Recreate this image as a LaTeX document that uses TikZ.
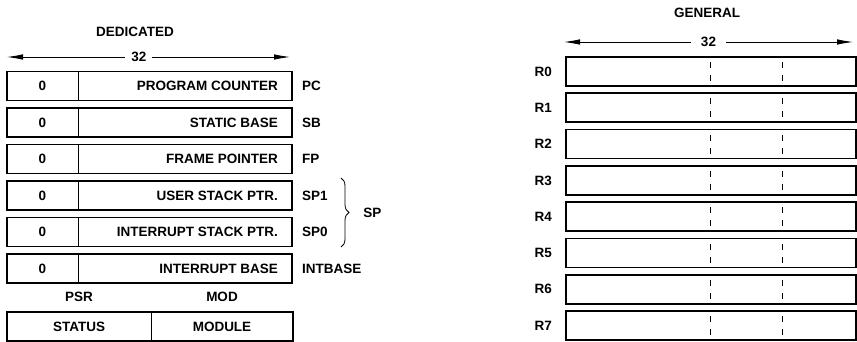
\documentclass[tikz,border=0pt]{standalone}
\usepackage{fontspec}
\setsansfont{Liberation Sans}
\usepackage{tikz}
\usetikzlibrary{positioning,arrows.meta,decorations.pathreplacing}

\begin{document}
\begin{tikzpicture}[x=1pt, y=-1pt, font=\fontsize{13.5}{15}\selectfont\sffamily\bfseries,
  regbox/.style={draw, line width=1.8pt, minimum height=29pt, inner sep=0pt, outer sep=0pt},
  cell/.style={minimum height=29pt, inner sep=0pt, outer sep=0pt},
  divider/.style={line width=0.9pt},
  bytesep/.style={line width=0.8pt, dash pattern=on 6pt off 7pt},
  dimline/.style={line width=0.8pt, {Latex[length=16pt,width=5.5pt]}-{Latex[length=16pt,width=5.5pt]}},
  lbl/.style={inner sep=0pt}]
\useasboundingbox (0,0) rectangle (857,342);

% dedicated registers
\node[lbl] (ded) at (135,32) {DEDICATED};
\coordinate (dedl) at (7,57);
\coordinate (dedr) at (290,57);
\draw[dimline] (dedl) -- node[pos=0.466, fill=white, inner xsep=6pt, inner ysep=1pt] (dedw) {32} (dedr);

\foreach \rname/\ry/\rtext/\rlab in {pc/86/PROGRAM COUNTER/PC, sb/122.5/STATIC BASE/SB,
    fp/159/FRAME POINTER/FP, usp/195.5/USER STACK PTR./SP1,
    isp/232/INTERRUPT STACK PTR./SP0, intbase/268.5/INTERRUPT BASE/INTBASE} {
  \node[regbox, minimum width=285pt] (\rname) at (149.5,\ry) {};
  \node[cell, minimum width=71pt, anchor=west] (\rname0) at (\rname.west) {0};
  \draw[divider] (\rname0.north east) -- (\rname0.south east);
  \node[lbl, anchor=east, xshift=-14pt] (\rname-txt) at (\rname.east) {\rtext};
  \node[lbl, anchor=west, xshift=10pt] (\rname-lab) at (\rname.east) {\rlab};
}

\coordinate (spt) at (341,178);
\coordinate (spb) at (341,247);
\draw[line width=0.8pt, decorate, decoration={brace, amplitude=8pt}] (spt) -- (spb)
  node[lbl, midway, anchor=west, xshift=22pt] (sp) {SP};

% status / module
\node[cell, minimum width=144pt] (status) at (79,326.5) {STATUS};
\node[cell, minimum width=142pt, right=0pt of status] (module) {MODULE};
\draw[line width=1.8pt] (status.north west) rectangle (module.south east);
\draw[divider] (status.north east) -- (status.south east);
\node[lbl, above=10pt of status] (psr) {PSR};
\node[lbl, above=10pt of module] (mod) {MOD};

% general registers
\node[lbl] (gen) at (707,13) {GENERAL};
\coordinate (genl) at (564,42);
\coordinate (genr) at (853,42);
\draw[dimline] (genl) -- node[midway, fill=white, inner xsep=10pt, inner ysep=1pt] (genw) {32} (genr);

\foreach \i in {0,...,7} {
  \node[regbox, minimum width=290pt] (r\i) at (711,71.5+36.3*\i) {};
  \node[lbl, anchor=east, xshift=-14pt] (r\i-lab) at (r\i.west) {R\i};
  \draw[bytesep] ([xshift=144pt, yshift=-5pt]r\i.north west) -- ([xshift=144pt, yshift=5pt]r\i.south west);
  \draw[bytesep] ([xshift=216pt, yshift=-5pt]r\i.north west) -- ([xshift=216pt, yshift=5pt]r\i.south west);
}
\end{tikzpicture}
\end{document}
